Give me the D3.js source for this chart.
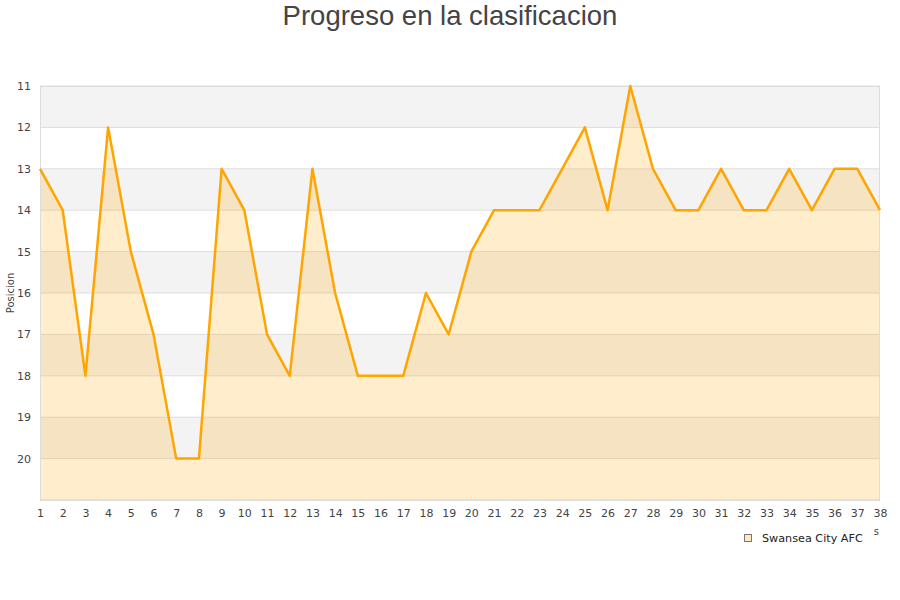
<!DOCTYPE html>
<html><head><meta charset="utf-8">
<script src="https://cdn.jsdelivr.net/npm/d3@7"></script>
<style>body{margin:0;background:#fff}svg{display:block}</style>
</head><body>
<svg id="c" width="900" height="600"></svg>
<script>
const jornadas = d3.range(1, 39);
const posiciones = [13,14,18,12,15,17,20,20,13,14,17,18,13,16,18,18,18,16,17,15,14,14,14,13,12,14,11,13,14,14,13,14,14,13,14,13,13,14];
const yTicks = [11,12,13,14,15,16,17,18,19,20];
const teamName = "Swansea City AFC";
const title = "Progreso en la clasificacion";

const svg = d3.select("#c");
const L = 40, R = 880, T = 86, B = 500;
const x = d3.scaleLinear().domain([1, 38]).range([L, R]);
const y = d3.scaleLinear().domain([11, 21]).range([T, B]);
const font = "DejaVu Sans, Verdana, sans-serif";

// alternating bands
const bands = d3.range(11, 21);
svg.selectAll("rect.band").data(bands).join("rect")
  .attr("x", L).attr("width", R - L)
  .attr("y", d => y(d)).attr("height", d => y(d + 1) - y(d))
  .attr("fill", (d, i) => i % 2 === 0 ? "#f3f3f3" : "#ffffff");

// grid lines
svg.selectAll("line.grid").data(d3.range(11, 22)).join("line")
  .attr("x1", L).attr("x2", R)
  .attr("y1", d => y(d)).attr("y2", d => y(d))
  .attr("stroke", "#dddddd").attr("stroke-width", 1);

// area
const data = jornadas.map((j, i) => ({j, p: posiciones[i]}));
svg.append("path").datum(data)
  .attr("d", d3.area().x(d => x(d.j)).y0(y(21)).y1(d => y(d.p)))
  .attr("fill", "rgba(255,165,0,0.2)");

// border
svg.append("rect").attr("x", L + 0.5).attr("y", T + 0.5)
  .attr("width", R - L - 1).attr("height", B - T)
  .attr("fill", "none").attr("stroke", "#dddddd");

// line
svg.append("path").datum(data)
  .attr("d", d3.line().x(d => x(d.j)).y(d => y(d.p)))
  .attr("fill", "none").attr("stroke", "#ffa500").attr("stroke-width", 2.5)
  .attr("stroke-linejoin", "round");

// y axis labels
const yAxis = svg.append("g").attr("transform", `translate(${L},0)`)
  .call(d3.axisLeft(y).tickValues(yTicks).tickSize(0).tickPadding(9));
yAxis.select(".domain").remove();
yAxis.selectAll("text").attr("font-family", font).attr("font-size", 11).attr("fill", "#444");

// x axis labels
const xAxis = svg.append("g").attr("transform", `translate(0,${B})`)
  .call(d3.axisBottom(x).tickValues(jornadas).tickFormat(d3.format("d")).tickSize(0).tickPadding(9));
xAxis.select(".domain").remove();
xAxis.selectAll("text").attr("font-family", font).attr("font-size", 11).attr("fill", "#444");

// y axis title
svg.append("text").attr("transform", "translate(14,293) rotate(-90)")
  .attr("text-anchor", "middle").attr("font-family", font).attr("font-size", 10)
  .attr("fill", "#444").text("Posicion");

// visible tail of the x axis title
svg.append("text").attr("x", 879).attr("y", 535).attr("text-anchor", "end")
  .attr("font-family", font).attr("font-size", 10).attr("fill", "#444").text("s");

// legend
svg.append("rect").attr("x", 744.5).attr("y", 534.5).attr("width", 7).attr("height", 7)
  .attr("fill", "#fee9c4").attr("stroke", "#777").attr("stroke-width", 1);
svg.append("text").attr("x", 762).attr("y", 542).attr("font-family", font)
  .attr("font-size", 11.2).attr("fill", "#222").text(teamName);

// title
svg.append("text").attr("x", 450).attr("y", 25).attr("text-anchor", "middle")
  .attr("font-family", "Liberation Sans, Arial, sans-serif").attr("font-size", 27.5)
  .attr("fill", "#444").text(title);
</script>
</body></html>
